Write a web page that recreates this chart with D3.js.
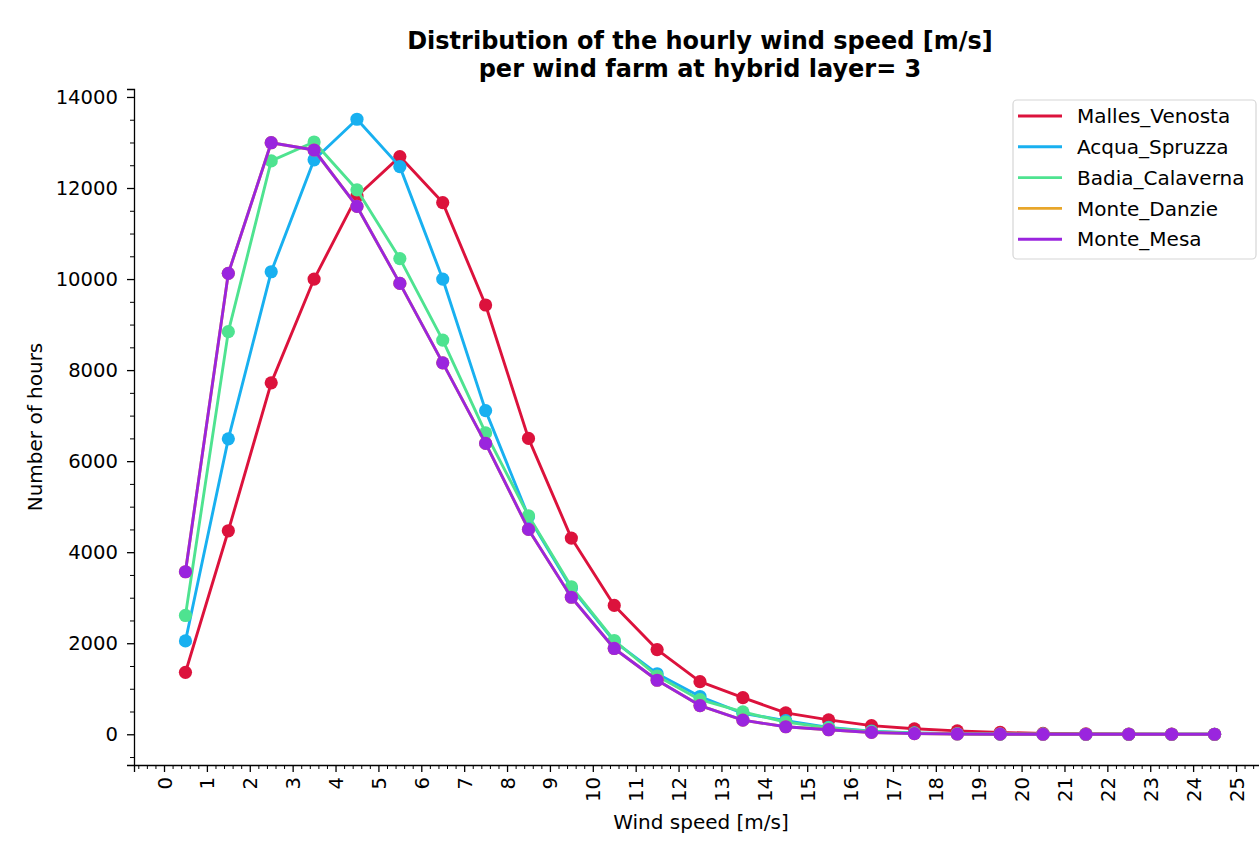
<!DOCTYPE html>
<html>
<head>
<meta charset="utf-8">
<script src="https://cdn.jsdelivr.net/npm/d3@7"></script>
<style>
  html, body { margin: 0; padding: 0; background: #fff; }
  text { font-family: "DejaVu Sans", sans-serif; fill: #000; }
</style>
</head>
<body>
<svg id="chart" width="1259" height="847"></svg>
<script>
// ---------- data ----------
const windBins = [0.5, 1.5, 2.5, 3.5, 4.5, 5.5, 6.5, 7.5, 8.5, 9.5, 10.5, 11.5, 12.5,
                  13.5, 14.5, 15.5, 16.5, 17.5, 18.5, 19.5, 20.5, 21.5, 22.5, 23.5, 24.5];

const seriesNames = ["Malles_Venosta", "Acqua_Spruzza", "Badia_Calaverna", "Monte_Danzie", "Monte_Mesa"];

const mallesVenosta   = [1360, 4470, 7720, 10000, 11820, 12690, 11680, 9430, 6500, 4310, 2830, 1860, 1155,
                         805, 470, 315, 190, 120, 75, 40, 20, 10, 5, 2, 1];
const acquaSpruzza    = [2050, 6490, 10160, 12620, 13510, 12470, 10000, 7110, 4780, 3210, 2040, 1330, 830,
                         460, 300, 150, 70, 30, 12, 5, 2, 1, 0, 0, 0];
const badiaCalaverna  = [2610, 8845, 12595, 13010, 11960, 10450, 8660, 6620, 4800, 3240, 2060, 1280, 760,
                         490, 270, 140, 60, 25, 10, 4, 2, 1, 0, 0, 0];
const monteDanzie     = [3570, 10125, 12995, 12835, 11595, 9905, 8160, 6390, 4500, 3010, 1885, 1187, 630,
                         310, 165, 100, 40, 15, 6, 2, 1, 0, 0, 0, 0];
const monteMesa       = [3570, 10125, 12995, 12835, 11595, 9905, 8160, 6390, 4500, 3010, 1885, 1187, 630,
                         310, 165, 100, 40, 15, 6, 2, 1, 0, 0, 0, 0];

const seriesColors = ["#dc123c", "#18b0f0", "#4ee390", "#e8a62a", "#9a25de"];

const xTickValues = [0, 1, 2, 3, 4, 5, 6, 7, 8, 9, 10, 11, 12, 13, 14, 15, 16, 17, 18, 19, 20, 21, 22, 23, 24, 25];
const yTickValues = [0, 2000, 4000, 6000, 8000, 10000, 12000, 14000];

const chartTitle = ["Distribution of the hourly wind speed [m/s]", "per wind farm at hybrid layer= 3"];
const xLabel = "Wind speed [m/s]";
const yLabel = "Number of hours";

// ---------- layout ----------
const svg = d3.select("#chart");
const plotLeft = 134, plotRight = 1266, plotTop = 89, plotBottom = 765;

const x = d3.scaleLinear().domain([-0.7, 25.7]).range([plotLeft, plotRight]);
const y = d3.scaleLinear().domain([-675, 14175]).range([plotBottom, plotTop]);

const seriesValues = [mallesVenosta, acquaSpruzza, badiaCalaverna, monteDanzie, monteMesa];
const series = seriesNames.map((name, i) => ({
  name, color: seriesColors[i],
  points: windBins.map((b, j) => ({ x: b, y: seriesValues[i][j] }))
}));

svg.append("rect").attr("width", 1259).attr("height", 847).attr("fill", "#fff");

// ---------- axes ----------
const tickFont = "19.6px";
const labelFont = "20px";

// x axis
const xAxis = d3.axisBottom(x).tickValues(xTickValues).tickSize(7).tickPadding(4).tickFormat(d3.format("d"));
const gx = svg.append("g").attr("transform", `translate(0,${plotBottom})`).call(xAxis);
gx.select(".domain").attr("stroke", "#000").attr("stroke-width", 1.3);
gx.selectAll(".tick line").attr("stroke", "#000").attr("stroke-width", 1.3);
gx.selectAll(".tick text")
  .attr("font-size", tickFont)
  .attr("font-family", "DejaVu Sans")
  .attr("transform", "rotate(-90)")
  .attr("text-anchor", "end")
  .attr("x", -12)
  .attr("y", 0)
  .attr("dy", "0.36em");

const xMinor = d3.range(-3, 129).map(k => k * 0.2).filter(v => Math.abs(v - Math.round(v)) > 1e-6);
const gxm = svg.append("g").attr("transform", `translate(0,${plotBottom})`)
  .call(d3.axisBottom(x).tickValues(xMinor).tickSize(4).tickFormat(""));
gxm.select(".domain").remove();
gxm.selectAll(".tick line").attr("stroke", "#000").attr("stroke-width", 1);

// y axis
const yAxis = d3.axisLeft(y).tickValues(yTickValues).tickSize(7).tickPadding(9).tickFormat(d3.format("d"));
const gy = svg.append("g").attr("transform", `translate(${plotLeft},0)`).call(yAxis);
gy.select(".domain").attr("stroke", "#000").attr("stroke-width", 1.3);
gy.selectAll(".tick line").attr("stroke", "#000").attr("stroke-width", 1.3);
gy.selectAll(".tick text").attr("font-size", tickFont).attr("font-family", "DejaVu Sans");

const yMinor = d3.range(-1, 29).map(k => k * 500).filter(v => v % 2000 !== 0);
const gym = svg.append("g").attr("transform", `translate(${plotLeft},0)`)
  .call(d3.axisLeft(y).tickValues(yMinor).tickSize(4).tickFormat(""));
gym.select(".domain").remove();
gym.selectAll(".tick line").attr("stroke", "#000").attr("stroke-width", 1);

// ---------- series ----------
const line = d3.line().x(d => x(d.x)).y(d => y(d.y));
series.forEach(s => {
  const g = svg.append("g");
  g.append("path").datum(s.points)
    .attr("d", line).attr("fill", "none")
    .attr("stroke", s.color).attr("stroke-width", 2.9)
    .attr("stroke-linejoin", "round").attr("stroke-linecap", "square");
  g.selectAll("circle").data(s.points).join("circle")
    .attr("cx", d => x(d.x)).attr("cy", d => y(d.y))
    .attr("r", 6.6).attr("fill", s.color);
});

// ---------- labels ----------
const title = svg.append("text").attr("text-anchor", "middle")
  .attr("font-size", "24px").attr("font-weight", "bold");
title.append("tspan").attr("x", 700).attr("y", 48.5).text(chartTitle[0]);
title.append("tspan").attr("x", 700).attr("y", 76.5).text(chartTitle[1]);

svg.append("text").attr("x", 701).attr("y", 829).attr("text-anchor", "middle")
  .attr("font-size", labelFont).text(xLabel);

svg.append("text").attr("transform", "translate(42,427) rotate(-90)")
  .attr("text-anchor", "middle").attr("font-size", labelFont).text(yLabel);

// ---------- legend ----------
const lg = svg.append("g");
lg.append("rect").attr("x", 1013).attr("y", 100).attr("width", 243).attr("height", 159)
  .attr("rx", 4).attr("fill", "#fff").attr("fill-opacity", 0.8)
  .attr("stroke", "#d6d6d6").attr("stroke-width", 1.2);
series.forEach((s, i) => {
  const cy = 116 + i * 30.8;
  lg.append("line").attr("x1", 1018).attr("x2", 1062).attr("y1", cy).attr("y2", cy)
    .attr("stroke", s.color).attr("stroke-width", 2.9);
  lg.append("text").attr("x", 1077).attr("y", cy).attr("dy", "0.36em")
    .attr("font-size", labelFont).text(s.name);
});
</script>
</body>
</html>
